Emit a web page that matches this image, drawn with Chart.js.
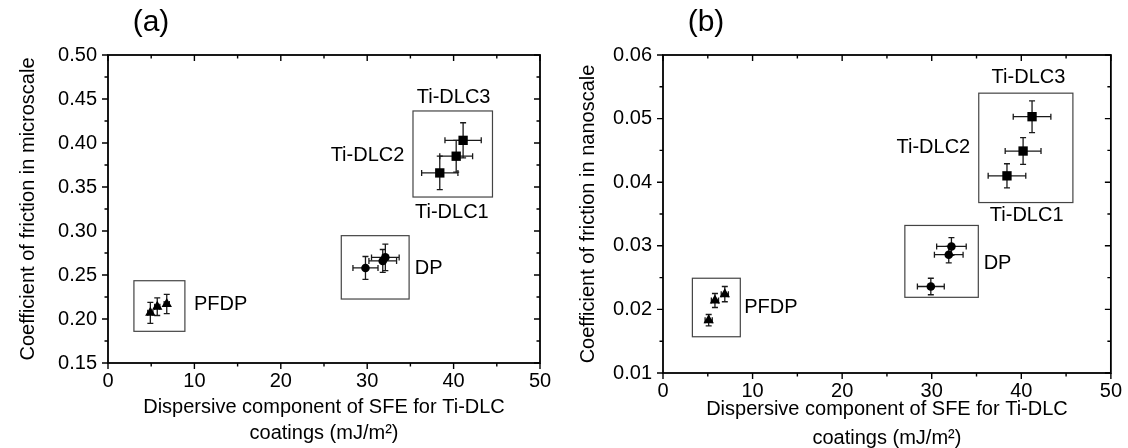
<!DOCTYPE html>
<html>
<head>
<meta charset="utf-8">
<script src="https://cdn.jsdelivr.net/npm/chart.js@4.4.1/dist/chart.umd.min.js"></script>
<style>
html, body { margin: 0; padding: 0; background: #fff; overflow: hidden; }
#wrap { position: relative; width: 1128px; height: 448px; }
canvas { position: absolute; top: 0; }
#chartA { left: 0; }
#chartB { left: 560px; }
</style>
</head>
<body>
<div id="wrap">
  <canvas id="chartA" width="560" height="448"></canvas>
  <canvas id="chartB" width="568" height="448"></canvas>
</div>
<script>
// ---- panel (a): microscale ----
const aPfdpX = [4.9, 5.7, 6.8];
const aPfdpY = [0.207, 0.214, 0.217];
const aPfdpXErr = [0.3, 0.3, 0.3];
const aPfdpYErr = [0.012, 0.010, 0.011];

const aDpX = [29.8, 31.8, 32.1];
const aDpY = [0.258, 0.266, 0.270];
const aDpXErr = [1.45, 1.6, 1.6];
const aDpYErr = [0.013, 0.013, 0.015];

const aTiX = [38.4, 40.3, 41.1];
const aTiY = [0.366, 0.385, 0.403];
const aTiXErr = [2.1, 1.9, 2.1];
const aTiYErr = [0.019, 0.018, 0.020];

// ---- panel (b): nanoscale ----
const bPfdpX = [5.1, 5.8, 6.9];
const bPfdpY = [0.0183, 0.0214, 0.0224];
const bPfdpXErr = [0.4, 0.4, 0.4];
const bPfdpYErr = [0.0009, 0.0011, 0.0012];

const bDpX = [29.9, 31.9, 32.2];
const bDpY = [0.0236, 0.0286, 0.0299];
const bDpXErr = [1.5, 1.6, 1.65];
const bDpYErr = [0.0013, 0.0013, 0.0014];

const bTiX = [38.4, 40.2, 41.2];
const bTiY = [0.0410, 0.0449, 0.0503];
const bTiXErr = [2.1, 2.0, 2.1];
const bTiYErr = [0.0019, 0.0021, 0.0025];

// tick labels
const xTickLabels = [0, 10, 20, 30, 40, 50];
const aYTickLabels = ['0.15', '0.20', '0.25', '0.30', '0.35', '0.40', '0.45', '0.50'];
const bYTickLabels = ['0.01', '0.02', '0.03', '0.04', '0.05', '0.06'];

const groupNames = ['Ti-DLC3', 'Ti-DLC2', 'Ti-DLC1', 'DP', 'PFDP'];
const xTitle = ['Dispersive component of SFE for Ti-DLC', 'coatings (mJ/m\u00B2)'];

Chart.defaults.font.family = '"Liberation Sans", Arial, sans-serif';
Chart.defaults.color = '#000';

function isMajor(v, step) {
    return Math.abs(v / step - Math.round(v / step)) < 1e-6;
}

function toPoints(xs, ys) {
    return xs.map((x, i) => ({ x: x, y: ys[i] }));
}

// error bars, frame, minor ticks, boxes and text labels
const decorPlugin = {
    id: 'decor',
    beforeDatasetsDraw(chart) {
        const ctx = chart.ctx;
        const xs = chart.scales.x, ys = chart.scales.y;
        ctx.save();
        ctx.strokeStyle = '#1a1a1a';
        ctx.lineWidth = 1.3;
        chart.data.datasets.forEach(ds => {
            ds.data.forEach((p, j) => {
                const cx = xs.getPixelForValue(p.x), cy = ys.getPixelForValue(p.y);
                const cap = 3;
                if (ds.xErr) {
                    const x0 = xs.getPixelForValue(p.x - ds.xErr[j]);
                    const x1 = xs.getPixelForValue(p.x + ds.xErr[j]);
                    ctx.beginPath();
                    ctx.moveTo(x0, cy); ctx.lineTo(x1, cy);
                    ctx.moveTo(x0, cy - cap); ctx.lineTo(x0, cy + cap);
                    ctx.moveTo(x1, cy - cap); ctx.lineTo(x1, cy + cap);
                    ctx.stroke();
                }
                if (ds.yErr) {
                    const y0 = ys.getPixelForValue(p.y - ds.yErr[j]);
                    const y1 = ys.getPixelForValue(p.y + ds.yErr[j]);
                    ctx.beginPath();
                    ctx.moveTo(cx, y0); ctx.lineTo(cx, y1);
                    ctx.moveTo(cx - cap, y0); ctx.lineTo(cx + cap, y0);
                    ctx.moveTo(cx - cap, y1); ctx.lineTo(cx + cap, y1);
                    ctx.stroke();
                }
            });
        });
        ctx.restore();
    },
    afterDraw(chart, args, opts) {
        const ctx = chart.ctx;
        const xs = chart.scales.x, ys = chart.scales.y;
        const { left, right, top, bottom } = chart.chartArea;
        ctx.save();

        // annotation boxes
        ctx.strokeStyle = '#444';
        ctx.lineWidth = 1.2;
        opts.boxes.forEach(b => {
            const x0 = xs.getPixelForValue(b[0]), x1 = xs.getPixelForValue(b[1]);
            const y0 = ys.getPixelForValue(b[2]), y1 = ys.getPixelForValue(b[3]);
            ctx.strokeRect(x0, y1, x1 - x0, y0 - y1);
        });

        // group labels
        ctx.fillStyle = '#000';
        ctx.font = '20px "Liberation Sans", Arial, sans-serif';
        ctx.textBaseline = 'middle';
        opts.labels.forEach(l => {
            ctx.textAlign = l.align;
            ctx.fillText(l.text, xs.getPixelForValue(l.x), ys.getPixelForValue(l.y));
        });

        // panel letter
        ctx.textAlign = 'center';
        ctx.font = '30px "Liberation Sans", Arial, sans-serif';
        ctx.fillText(opts.letter, left + 43, 23);

        // frame
        ctx.strokeStyle = '#000';
        ctx.lineWidth = 1.8;
        ctx.strokeRect(left, top, right - left, bottom - top);

        // ticks: outward on bottom/left, inward on top/right
        ctx.lineWidth = 1.4;
        ctx.beginPath();
        xs.ticks.forEach(t => {
            const px = xs.getPixelForValue(t.value);
            const len = isMajor(t.value, opts.xMajor) ? 6 : 3.5;
            ctx.moveTo(px, bottom); ctx.lineTo(px, bottom + len);
            ctx.moveTo(px, top); ctx.lineTo(px, top + len);
        });
        ys.ticks.forEach(t => {
            const py = ys.getPixelForValue(t.value);
            const len = isMajor(t.value, opts.yMajor) ? 6 : 3.5;
            ctx.moveTo(left, py); ctx.lineTo(left - len, py);
            ctx.moveTo(right, py); ctx.lineTo(right - len, py);
        });
        ctx.stroke();
        ctx.restore();
    }
};

function makePanel(id, p) {
    const canvas = document.getElementById(id);
    const ctx = canvas.getContext('2d');
    const datasets = [
        { label: 'PFDP', data: toPoints(p.pfdp[0], p.pfdp[1]), xErr: p.pfdp[2], yErr: p.pfdp[3],
          pointStyle: 'triangle', pointRadius: 6 },
        { label: 'DP', data: toPoints(p.dp[0], p.dp[1]), xErr: p.dp[2], yErr: p.dp[3],
          pointStyle: 'circle', pointRadius: 4.3 },
        { label: 'Ti-DLC', data: toPoints(p.ti[0], p.ti[1]), xErr: p.ti[2], yErr: p.ti[3],
          pointStyle: 'rect', pointRadius: 6.6 }
    ];
    datasets.forEach(d => {
        d.backgroundColor = '#000';
        d.borderColor = '#000';
        d.borderWidth = 0;
        d.showLine = false;
    });

    return new Chart(ctx, {
        type: 'scatter',
        data: { datasets: datasets },
        options: {
            responsive: false,
            animation: false,
            layout: { padding: { top: 55, right: p.padRight, bottom: 0, left: 0 } },
            plugins: {
                legend: { display: false },
                tooltip: { enabled: false },
                decor: {
                    boxes: p.boxes, labels: p.labels, letter: p.letter,
                    xMajor: 10, yMajor: p.yMajor
                }
            },
            scales: {
                x: {
                    type: 'linear', min: 0, max: 50,
                    grid: { display: false, drawTicks: false },
                    border: { display: false },
                    ticks: {
                        stepSize: 5, padding: 6, autoSkip: false, maxRotation: 0,
                        font: { size: 20 },
                        callback: v => {
                            const i = xTickLabels.findIndex(t => Math.abs(t - v) < 1e-6);
                            return i >= 0 ? String(xTickLabels[i]) : '';
                        }
                    },
                    title: {
                        display: true, text: xTitle,
                        font: { size: 20, lineHeight: p.titleLH },
                        padding: { top: 0, bottom: p.titlePadB }
                    },
                    afterFit: s => { s.height = p.xAxisH; }
                },
                y: {
                    type: 'linear', min: p.yMin, max: p.yMax,
                    grid: { display: false, drawTicks: false },
                    border: { display: false },
                    ticks: {
                        stepSize: p.yStep, padding: 11, autoSkip: false,
                        font: { size: 20 },
                        callback: v => {
                            const i = p.yLabels.findIndex(t => Math.abs(parseFloat(t) - v) < 1e-6);
                            return i >= 0 ? p.yLabels[i] : '';
                        }
                    },
                    title: {
                        display: true, text: p.yTitle,
                        font: { size: 20 },
                        padding: { top: 16, bottom: 0 }
                    },
                    afterFit: s => { s.width = p.yAxisW; }
                }
            }
        },
        plugins: [decorPlugin]
    });
}

makePanel('chartA', {
    letter: '(a)',
    pfdp: [aPfdpX, aPfdpY, aPfdpXErr, aPfdpYErr],
    dp: [aDpX, aDpY, aDpXErr, aDpYErr],
    ti: [aTiX, aTiY, aTiXErr, aTiYErr],
    yMin: 0.15, yMax: 0.50, yStep: 0.025, yMajor: 0.05, yLabels: aYTickLabels,
    yTitle: 'Coefficient of friction in microscale',
    padRight: 20, yAxisW: 108, xAxisH: 85, titleLH: 1.3, titlePadB: 2,
    boxes: [[3.0, 8.9, 0.186, 0.2435], [27.0, 34.85, 0.2227, 0.2947], [35.3, 44.5, 0.3386, 0.4364]],
    labels: [
        { text: groupNames[0], x: 40.0, y: 0.452, align: 'center' },
        { text: groupNames[1], x: 34.3, y: 0.386, align: 'right' },
        { text: groupNames[2], x: 39.8, y: 0.321, align: 'center' },
        { text: groupNames[3], x: 35.5, y: 0.257, align: 'left' },
        { text: groupNames[4], x: 9.95, y: 0.2167, align: 'left' }
    ]
});

makePanel('chartB', {
    letter: '(b)',
    pfdp: [bPfdpX, bPfdpY, bPfdpXErr, bPfdpYErr],
    dp: [bDpX, bDpY, bDpXErr, bDpYErr],
    ti: [bTiX, bTiY, bTiXErr, bTiYErr],
    yMin: 0.01, yMax: 0.06, yStep: 0.005, yMajor: 0.01, yLabels: bYTickLabels,
    yTitle: 'Coefficient of friction in nanoscale',
    padRight: 13, yAxisW: 103, xAxisH: 75, titleLH: 1.45, titlePadB: -5,
    boxes: [[3.28, 8.63, 0.0157, 0.0249], [27.0, 35.2, 0.0219, 0.0332], [35.25, 45.76, 0.0368, 0.054]],
    labels: [
        { text: groupNames[0], x: 40.8, y: 0.0565, align: 'center' },
        { text: groupNames[1], x: 34.3, y: 0.0454, align: 'right' },
        { text: groupNames[2], x: 40.6, y: 0.0348, align: 'center' },
        { text: groupNames[3], x: 35.8, y: 0.0272, align: 'left' },
        { text: groupNames[4], x: 9.07, y: 0.0203, align: 'left' }
    ]
});
</script>
</body>
</html>
